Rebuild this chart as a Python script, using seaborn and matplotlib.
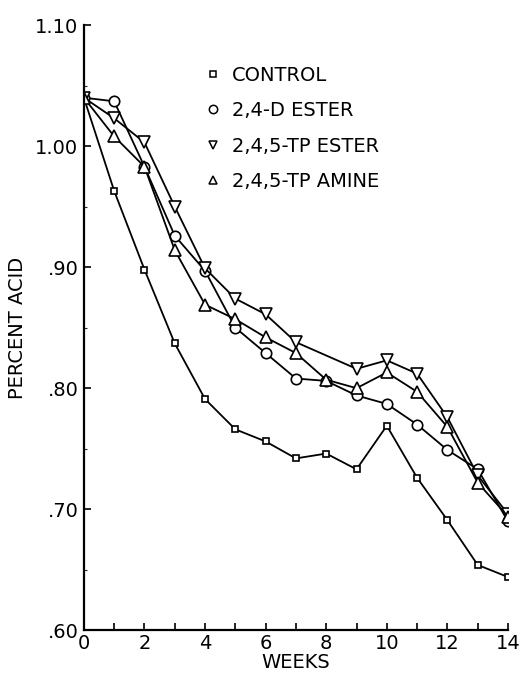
import pandas as pd
import matplotlib.pyplot as plt
import seaborn as sns
from matplotlib.lines import Line2D

# Datos
semanas = list(range(15))
control = [1.040, 0.963, 0.898, 0.837, 0.791, 0.766, 0.756, 0.742, 0.746,
           0.733, 0.769, 0.726, 0.691, 0.654, 0.644]
d_ester = [1.040, 1.037, 0.983, 0.926, 0.897, 0.850, 0.829, 0.808, 0.806,
           0.794, 0.787, 0.770, 0.749, 0.733, 0.690]
semanas_tp_ester = [0, 1, 2, 3, 4, 5, 6, 7, 9, 10, 11, 12, 13, 14]
tp_ester = [1.040, 1.023, 1.003, 0.950, 0.899, 0.874, 0.861, 0.838,
            0.816, 0.823, 0.812, 0.776, 0.728, 0.696]
tp_amine = [1.040, 1.008, 0.983, 0.914, 0.869, 0.857, 0.842, 0.829, 0.807,
            0.800, 0.813, 0.797, 0.768, 0.722, 0.694]

series = ["CONTROL", "2,4-D ESTER", "2,4,5-TP ESTER", "2,4,5-TP AMINE"]
marcadores = {"CONTROL": "s", "2,4-D ESTER": "o",
              "2,4,5-TP ESTER": "v", "2,4,5-TP AMINE": "^"}
tamanos = {"CONTROL": 5, "2,4-D ESTER": 7.5, "2,4,5-TP ESTER": 8, "2,4,5-TP AMINE": 8}

df = pd.concat([
    pd.DataFrame({"semana": semanas, "acido": control, "serie": "CONTROL"}),
    pd.DataFrame({"semana": semanas, "acido": d_ester, "serie": "2,4-D ESTER"}),
    pd.DataFrame({"semana": semanas_tp_ester, "acido": tp_ester, "serie": "2,4,5-TP ESTER"}),
    pd.DataFrame({"semana": semanas, "acido": tp_amine, "serie": "2,4,5-TP AMINE"}),
])

sns.set_style("ticks")
plt.rcParams["font.family"] = ["DejaVu Sans"]
plt.rcParams["text.color"] = "black"
plt.rcParams["axes.labelcolor"] = "black"

fig = plt.figure(figsize=(5.21, 6.77), dpi=100)
ax = fig.add_axes([0.161, 0.069, 0.814, 0.894])

for s in series:
    sub = df[df["serie"] == s]
    sns.lineplot(data=sub, x="semana", y="acido", ax=ax, color="black",
                 marker=marcadores[s], markersize=tamanos[s],
                 markerfacecolor="white", markeredgecolor="black",
                 markeredgewidth=1.2, linewidth=1.3, legend=False)

handles = [Line2D([], [], linestyle="none", marker=marcadores[s],
                  markersize=4.5 if s == "CONTROL" else 6,
                  markerfacecolor="white", markeredgecolor="black",
                  markeredgewidth=1.1) for s in series]
ax.legend(handles, series, frameon=False, loc="upper left",
          bbox_to_anchor=(0.24, 0.962), fontsize=14, handletextpad=0.5,
          labelspacing=0.85, handlelength=1.0, labelcolor="black")

ax.set_xlim(0, 14)
ax.set_ylim(0.60, 1.10)
ax.set_xticks(range(0, 15))
ax.set_xticklabels([str(i) if i % 2 == 0 else "" for i in range(15)])
ax.set_yticks([0.60, 0.70, 0.80, 0.90, 1.00, 1.10])
ax.set_yticklabels([".60", ".70", ".80", ".90", "1.00", "1.10"])
ax.set_yticks([0.65, 0.75, 0.85, 0.95, 1.05], minor=True)
ax.tick_params(axis="both", direction="in", labelsize=14, width=1.2,
               length=5, colors="black")
ax.tick_params(axis="y", which="minor", direction="in", length=2.5, width=0.8)
ax.tick_params(axis="x", pad=3)
ax.tick_params(axis="y", pad=4)

ax.set_xlabel("WEEKS", fontsize=14, labelpad=0)
ax.set_ylabel("PERCENT ACID", fontsize=14, labelpad=6)

sns.despine(ax=ax)
for lado in ["left", "bottom"]:
    ax.spines[lado].set_linewidth(1.6)
    ax.spines[lado].set_color("black")

plt.savefig("out.png", dpi=100)
